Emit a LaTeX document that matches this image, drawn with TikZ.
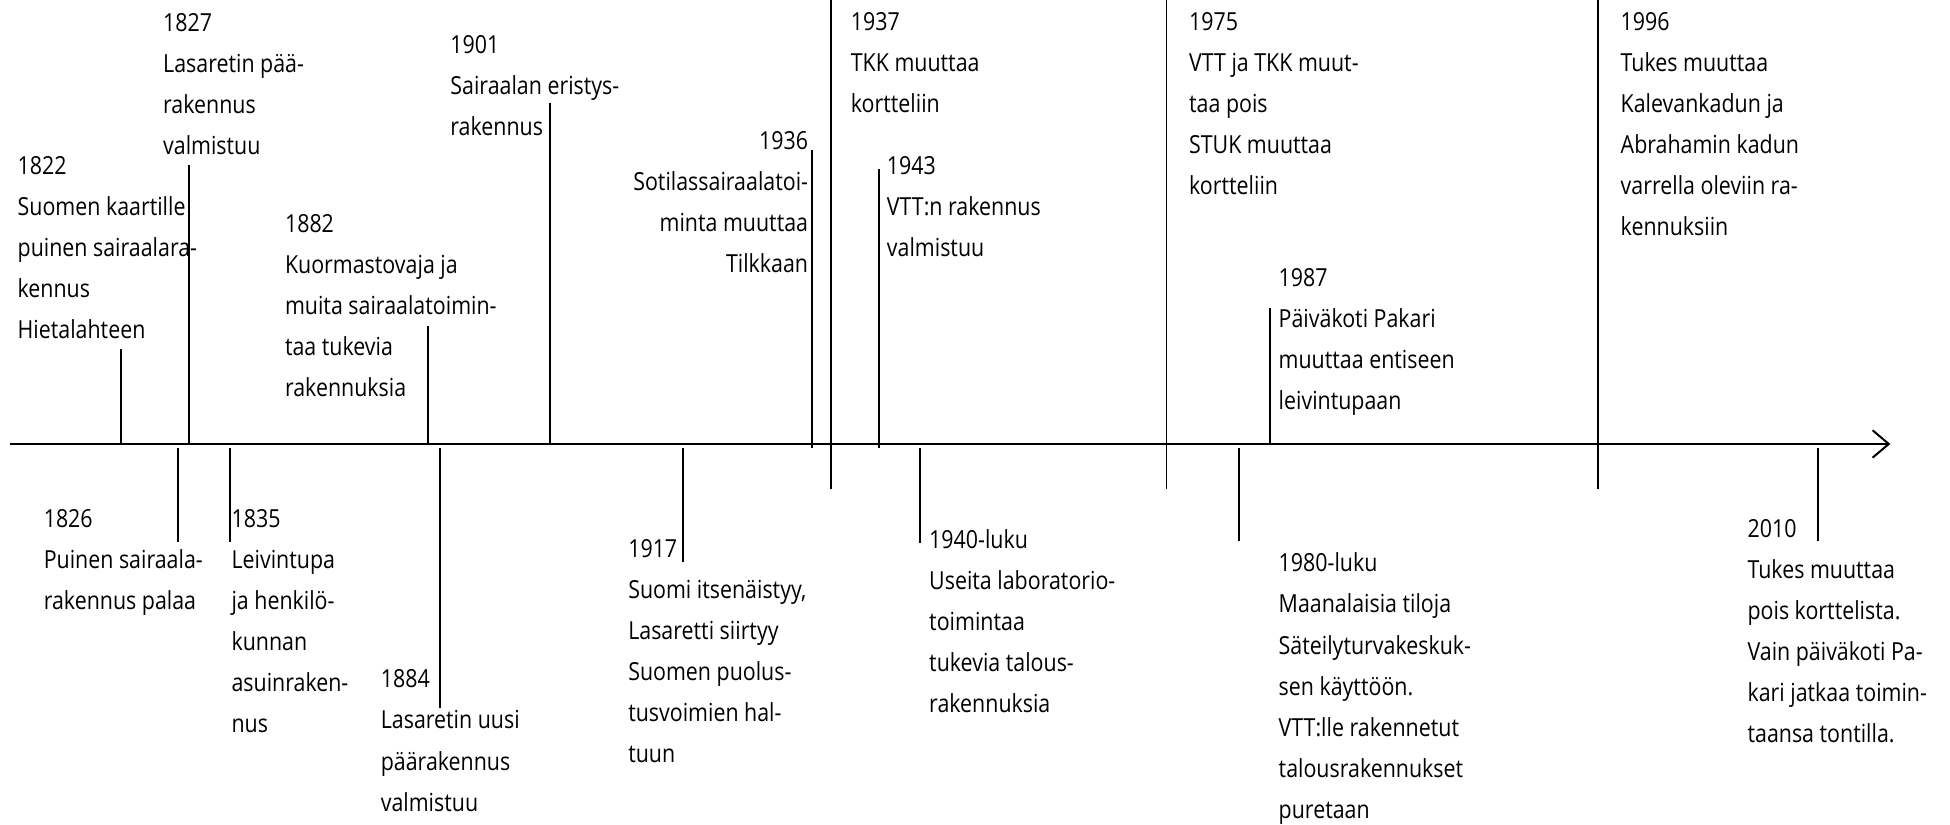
\documentclass[tikz,border=0pt]{standalone}
\usepackage{fontspec}
\setmainfont{Open Sans}[FakeStretch=0.86]
\usetikzlibrary{arrows.meta}
\tikzset{
  evtext/.style={anchor=north west, inner sep=0pt, align=left, font=\fontsize{20}{33}\selectfont},
  evtextr/.style={anchor=north east, inner sep=0pt, align=right, font=\fontsize{20}{33}\selectfont},
  tick/.style={line width=1.4pt},
  axis/.style={line width=1.6pt, -{Straight Barb[length=13pt,width=22pt,line width=1.6pt]}}
}
\begin{document}
\begin{tikzpicture}[x=1pt,y=-1pt]
\useasboundingbox (0,0) rectangle (1568,663);
% axis
\coordinate (axs) at (8,357);
\coordinate (axe) at (1520,357);
\draw[axis] (axs) -- (axe);
% above ticks
\coordinate (a1822) at (97,357);  \coordinate (t1822) at (97,281);
\coordinate (a1827) at (152,357); \coordinate (t1827) at (152,133);
\coordinate (a1882) at (344,357); \coordinate (t1882) at (344,262);
\coordinate (a1901) at (442,357); \coordinate (t1901) at (442,83);
\coordinate (a1936) at (653,360); \coordinate (t1936) at (653,121);
\coordinate (a1937) at (668,393); \coordinate (t1937) at (668,0);
\coordinate (a1943) at (707,360); \coordinate (t1943) at (707,136);
\coordinate (a1975) at (938,393); \coordinate (t1975) at (938,0);
\coordinate (a1987) at (1021,357); \coordinate (t1987) at (1021,248);
\coordinate (a1996) at (1285,393); \coordinate (t1996) at (1285,0);
% below ticks
\coordinate (a1826) at (143,360); \coordinate (t1826) at (143,436);
\coordinate (a1835) at (185,360); \coordinate (t1835) at (185,436);
\coordinate (a1884) at (354,360); \coordinate (t1884) at (354,569);
\coordinate (a1917) at (549,360); \coordinate (t1917) at (549,452);
\coordinate (a1940) at (740,360); \coordinate (t1940) at (740,437);
\coordinate (a1980) at (996,360); \coordinate (t1980) at (996,435);
\coordinate (a2010) at (1462,360); \coordinate (t2010) at (1462,435);
\foreach \n in {1822,1827,1882,1901,1936,1937,1943,1975,1987,1996,1826,1835,1884,1917,1940,1980,2010}
  \draw[tick] (a\n) -- (t\n);
% texts above
\node[evtext] (e1822) at (14,125.5) {1822\\Suomen kaartille\\puinen sairaalara-\\kennus\\Hietalahteen};
\node[evtext] (e1827) at (131,10.5) {1827\\Lasaretin pää-\\rakennus\\valmistuu};
\node[evtext] (e1882) at (229,172.5) {1882\\Kuormastovaja ja\\muita sairaalatoimin-\\taa tukevia\\rakennuksia};
\node[evtext] (e1901) at (362,28.5) {1901\\Sairaalan eristys-\\rakennus};
\node[evtextr] (e1936) at (650,105.5) {1936\\Sotilassairaalatoi-\\minta muuttaa\\Tilkkaan};
\node[evtext] (e1937) at (684,9.5) {1937\\TKK muuttaa\\kortteliin};
\node[evtext] (e1943) at (713,125.5) {1943\\VTT:n rakennus\\valmistuu};
\node[evtext] (e1975) at (956,9.5) {1975\\VTT ja TKK muut-\\taa pois\\STUK muuttaa\\kortteliin};
\node[evtext] (e1987) at (1028,215.5) {1987\\Päiväkoti Pakari\\muuttaa entiseen\\leivintupaan};
\node[evtext] (e1996) at (1303,9.5) {1996\\Tukes muuttaa\\Kalevankadun ja\\Abrahamin kadun\\varrella oleviin ra-\\kennuksiin};
% texts below
\node[evtext] (e1826) at (35,409.5) {1826\\Puinen sairaala-\\rakennus palaa};
\node[evtext] (e1835) at (186,409.5) {1835\\Leivintupa\\ja henkilö-\\kunnan\\asuinraken-\\nus};
\node[evtext] (e1884) at (306,538.5) {1884\\Lasaretin uusi\\päärakennus\\valmistuu};
\node[evtext] (e1917) at (505,433.5) {1917\\Suomi itsenäistyy,\\Lasaretti siirtyy\\Suomen puolus-\\tusvoimien hal-\\tuun};
\node[evtext] (e1940) at (747,425.5) {1940-luku\\Useita laboratorio-\\toimintaa\\tukevia talous-\\rakennuksia};
\node[evtext] (e1980) at (1028,444.5) {1980-luku\\Maanalaisia tiloja\\Säteilyturvakeskuk-\\sen käyttöön.\\VTT:lle rakennetut\\talousrakennukset\\puretaan};
\node[evtext] (e2010) at (1405,417.5) {2010\\Tukes muuttaa\\pois korttelista.\\Vain päiväkoti Pa-\\kari jatkaa toimin-\\taansa tontilla.};
\end{tikzpicture}
\end{document}
